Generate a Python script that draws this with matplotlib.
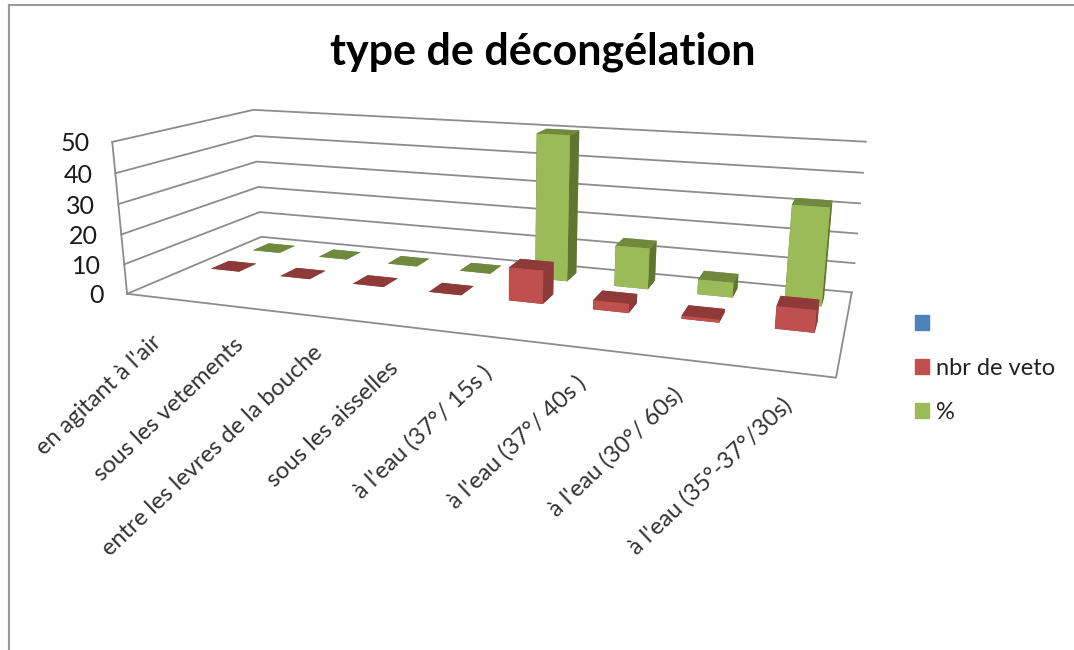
import matplotlib
matplotlib.use("Agg")
import matplotlib.pyplot as plt
from matplotlib.lines import Line2D
from matplotlib.patches import Patch
import numpy as np

W, H = 1074, 650

categories = ["en agitant à l'air", "sous les vetements", "entre les levres de la bouche",
              "sous les aisselles", "à l'eau (37°/ 15s )", "à l'eau (37°/ 40s )",
              "à l'eau (30°/ 60s)", "à l'eau (35°-37°/30s)"]
nbr_veto = [0, 0, 0, 0, 11, 3, 1, 7]
pourcent = [0, 0, 0, 0, 50, 14, 5, 32]
z_ticks = [0, 10, 20, 30, 40, 50]
series_names = ["", "nbr de veto", "%"]

# where the ends of the category labels sit, in picture pixels
label_ends = [(151, 331), (233, 334), (312, 342), (388, 357),
              (481, 362), (575, 372), (672, 384), (781, 394)]

plt.rcParams['font.family'] = ['Lato', 'DejaVu Sans']

# corners of the chart box: (category, series, value) -> picture pixels
corners = [((0, 0, 0), (126.7, 294)), ((0, 0, 50), (112.7, 141.7)),
           ((0, 3, 50), (253, 110)), ((0, 3, 0), (261.7, 236.7)),
           ((8, 3, 50), (866, 141.7)), ((8, 3, 0), (851.7, 292.3)),
           ((8, 0, 0), (836, 377.7))]


def fit_camera():
    rows = []
    for (x, y, z), (u, v) in corners:
        p = [x / 8, y / 3, z / 50, 1]
        rows.append(p + [0, 0, 0, 0] + [-u * c for c in p])
        rows.append([0, 0, 0, 0] + p + [-v * c for c in p])
    P = np.linalg.svd(np.array(rows))[2][-1].reshape(3, 4)
    P = P @ np.diag([1 / 8, 1 / 3, 1 / 50, 1])
    return P / P[2, 3]


P = fit_camera()


def to_pixels(x, y, z):
    u, v, w = P @ np.array([x, y, z, 1.0])
    return u / w, v / w


fig = plt.figure(figsize=(W / 100, H / 100), dpi=100)
ax = fig.add_axes([0, 0, 1, 1], projection='3d')
ax.set_axis_off()
ax.computed_zorder = False
ax.apply_aspect = lambda position=None: None


def get_proj():
    inv = ax.transData.inverted()
    p0 = inv.transform((0, H))
    p1 = inv.transform((W, 0))
    sx, sy = (p1[0] - p0[0]) / W, (p1[1] - p0[1]) / H
    return np.array([sx * P[0] + p0[0] * P[2],
                     sy * P[1] + p0[1] * P[2],
                     [0, 0, 0, -1],
                     P[2]])


ax.get_proj = get_proj

grid = dict(color="#8c8c8c", lw=1.3, zorder=1)
for t in z_ticks:
    ax.plot([0, 0, 8], [0, 3, 3], [t, t, t], **grid)
ax.plot([0, 0], [0, 0], [0, 50], **grid)
ax.plot([0, 8, 8], [0, 0, 3], [0, 0, 0], **grid)

bar_w = 0.41
order = 2
faces = {"r": ["#8e3a38", "#8e3a38", "#c0504d", "#c0504d", "#8e3a38", "#8e3a38"],
         "g": ["#71893f", "#71893f", "#9bbb59", "#9bbb59", "#5f7530", "#5f7530"]}
for row, vals, key in [(2, pourcent, "g"), (1, nbr_veto, "r")]:
    for i, v in enumerate(vals):
        ax.bar3d(i + (1 - bar_w) / 2, row + (1 - bar_w) / 2, 0, bar_w, bar_w, v,
                 color=faces[key], shade=False, zorder=order)
        order += 1

# value labels follow the tilted axis
for t in z_ticks:
    u, v = to_pixels(0, 0, t)
    fig.text((u - 23) / W, 1 - (v + 2) / H, str(t), ha='right', va='center',
             fontsize=18, color="#1a1a1a")

for name, (u, v) in zip(categories, label_ends):
    fig.text(u / W, 1 - v / H, name, ha='right', va='top', rotation=43.5,
             rotation_mode='anchor', fontsize=17, color="#333333")

fig.text(543 / W, 1 - 52 / H, "type de décongélation", ha='center', va='center',
         fontsize=31, fontweight='bold', color="black")

handles = [Patch(color=c) for c in ["#4f81bd", "#c0504d", "#9bbb59"]]
fig.legend(handles, series_names, loc='upper left', bbox_to_anchor=(915 / W, 1 - 314 / H),
           frameon=False, fontsize=17, handlelength=0.6, handleheight=0.6,
           handletextpad=0.3, labelspacing=0.965, borderpad=0, borderaxespad=0,
           labelcolor="#222222")

for xs, ys in [([9, 9], [5, 650]), ([9, 1074], [5, 5])]:
    fig.add_artist(Line2D([x / W for x in xs], [1 - y / H for y in ys],
                          color="#9a9a9a", lw=1.5))

fig.savefig("out.png", dpi=100)
